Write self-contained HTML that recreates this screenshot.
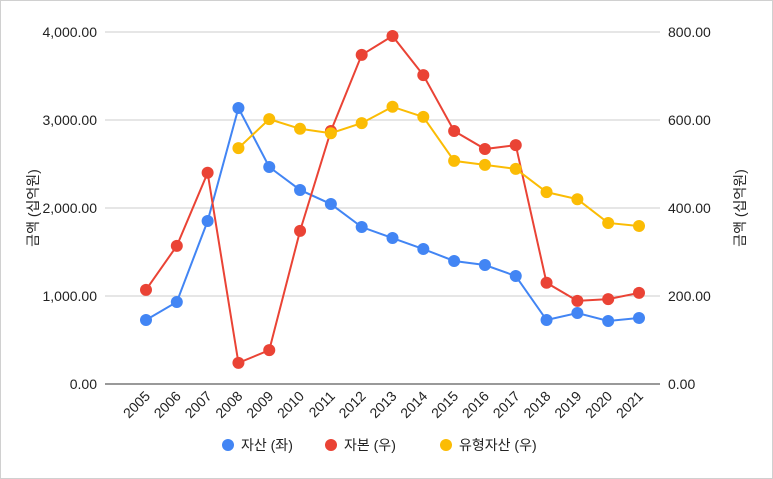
<!DOCTYPE html>
<html><head><meta charset="utf-8"><style>
html,body{margin:0;padding:0;background:#fff;}
svg{display:block;font-family:"Liberation Sans","Noto Sans CJK KR",sans-serif;}
</style></head><body>
<svg id="chart" width="773" height="479" viewBox="0 0 773 479" xmlns="http://www.w3.org/2000/svg">
<rect width="773" height="479" fill="#fff"/>
<rect x="0.5" y="0.5" width="772" height="478" fill="none" stroke="#d0d0d0" stroke-width="1"/>
<g id="grid"></g><g id="axes"></g><g id="series"></g>
<text transform="translate(38,208) rotate(-90)" text-anchor="middle" font-size="14" fill="#222">금액 (십억원)</text>
<text transform="translate(745,208) rotate(-90)" text-anchor="middle" font-size="14" fill="#222">금액 (십억원)</text>
<g>
<g><circle cx="228" cy="445" r="6" fill="#4285F4"/><text x="241" y="450" font-size="14" fill="#222">자산 (좌)</text></g>
<g><circle cx="331" cy="445" r="6" fill="#EA4335"/><text x="344" y="450" font-size="14" fill="#222">자본 (우)</text></g>
<g><circle cx="446" cy="445" r="6" fill="#FBBC04"/><text x="459" y="450" font-size="14" fill="#222">유형자산 (우)</text></g>
</g>
</svg>
<script>
const years=[2005,2006,2007,2008,2009,2010,2011,2012,2013,2014,2015,2016,2017,2018,2019,2020,2021];
const assets=[727,932,1852,3136,2466,2205,2045,1784,1659,1534,1398,1352,1227,727,807,716,750];
const equity=[214,314,480,48,77,348,575,748,791,702,575,534,543,230,189,193,207];
const tangible=[null,null,null,536,602,580,570,593,630,607,507,498,489,436,420,366,359];
const leftTicks=[0,1000,2000,3000,4000];
const rightTicks=[0,200,400,600,800];
const NS="http://www.w3.org/2000/svg";
const x=i=>146+i*(639-146)/(years.length-1);
const yL=v=>384-v*352/4000;
const yR=v=>384-v*352/800;
function el(t,a,p){const e=document.createElementNS(NS,t);for(const k in a)e.setAttribute(k,a[k]);p.appendChild(e);return e;}
const fmt=v=>v.toLocaleString('en-US',{minimumFractionDigits:2,maximumFractionDigits:2});
const grid=document.getElementById('grid'),axes=document.getElementById('axes'),ser=document.getElementById('series');
leftTicks.forEach((v,i)=>{
 const l=el('line',{x1:105,x2:660,y1:yL(v),y2:yL(v),stroke:i==0?'#333':'#ccc','stroke-width':1},grid);
 
 
 const t=el('text',{x:97,y:yL(v)+5,'text-anchor':'end','font-size':14,fill:'#222'},axes);
 t.textContent=fmt(v);
 
 
});
rightTicks.forEach(v=>{
 const t=el('text',{x:668,y:yR(v)+5,'font-size':14,fill:'#222'},axes);
 t.textContent=fmt(v);
 
 
});
years.forEach((yr,i)=>{
 const t=el('text',{transform:`translate(${x(i)+5},${397}) rotate(-45)`,'text-anchor':'end','font-size':14,fill:'#222'},axes);
 t.textContent=yr;
 
 
});
function series(data,sc,color,name){
 const g=el('g',{},ser);
 
 
 let d='';data.forEach((v,i)=>{if(v==null)return;d+=(d?'L':'M')+x(i)+','+sc(v);});
 const p=el('path',{d:d,fill:'none',stroke:color,'stroke-width':2},g);
 
 
 data.forEach((v,i)=>{if(v==null)return;
  const c=el('circle',{cx:x(i),cy:sc(v),r:6,fill:color},g);
  
  
 });
}
series(assets,yL,'#4285F4','assets');
series(equity,yR,'#EA4335','equity');
series(tangible,yR,'#FBBC04','tangible-assets');
</script>
</body></html>
